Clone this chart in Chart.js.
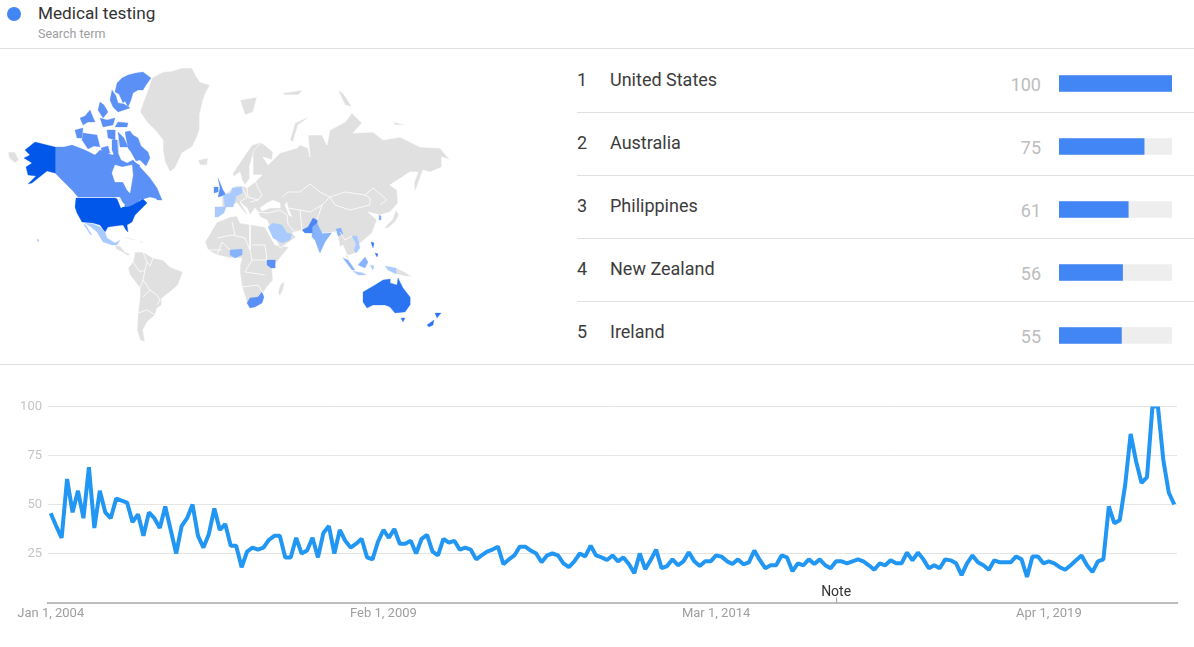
<!DOCTYPE html>
<html>
<head>
<meta charset="utf-8">
<title>Medical testing</title>
<script src="https://cdn.jsdelivr.net/npm/chart.js@4/dist/chart.umd.min.js"></script>
<style>
  html, body { margin: 0; padding: 0; background: #fff; overflow: hidden; }
  body { width: 1194px; height: 647px; position: relative; font-family: Roboto, sans-serif; }
  .abs { position: absolute; white-space: nowrap; }
  .rule { position: absolute; height: 1px; background: #e0e0e0; }
  canvas { position: absolute; }
</style>
</head>
<body>
<div class="abs" style="left:7px;top:7px;width:14px;height:14px;border-radius:50%;background:#4285f4"></div>
<div class="abs" id="term" style="left:38px;top:2px;font-size:17.2px;line-height:22px;color:#333"></div>
<div class="abs" id="termKind" style="left:38px;top:26px;font-size:12.5px;line-height:16px;color:#9e9e9e"></div>
<div class="rule" style="left:0;width:1194px;top:48px"></div>
<div class="rule" style="left:0;width:1194px;top:364px"></div>
<div id="rows"></div>

<div style="position:absolute;left:0;top:49px;width:470px;height:315px"><canvas id="mapChart"></canvas></div>
<div style="position:absolute;left:1058.5px;top:52px;width:113.5px;height:315px"><canvas id="regionChart"></canvas></div>
<div style="position:absolute;left:0;top:380px;width:1194px;height:250px"><canvas id="trendChart"></canvas></div>

<script>
const TERM = 'Medical testing';
const TERM_KIND = 'Search term';

// top regions list
const regionNames = ['United States', 'Australia', 'Philippines', 'New Zealand', 'Ireland'];
const regionValues = [100, 75, 61, 56, 55];

// interest over time, one value a month from Jan 2004
const trendValues = [
  45.5, 39, 33, 63, 46, 57, 43, 69, 38, 57, 46, 43, 53, 52, 51, 41, 45, 34, 46, 43,
  38, 49, 37, 25, 39, 43, 50, 34, 28, 35, 48, 37, 40, 29, 29, 18, 26, 28, 27, 28,
  32, 34, 34, 23, 23, 33, 25, 26.5, 33, 23, 35.5, 39, 25, 37, 31.5, 28, 30, 32.5, 23, 22,
  31, 37, 33, 37.5, 30, 30, 31.5, 25, 32.5, 34.5, 26, 24, 32.5, 30.5, 31.5, 27, 28, 27, 22, 24,
  26, 27, 28.5, 19.5, 22, 24, 28.5, 28.5, 26.5, 25, 20.5, 24, 25, 24, 20, 18, 21, 25, 23.5, 29,
  24, 23, 21.7, 24, 21, 23, 19.6, 15, 25, 17, 21.7, 27, 17.5, 18.6, 22, 19, 21, 25.6, 21, 18.6,
  21, 21, 24, 23.4, 21, 19.6, 22, 19.5, 20.5, 26.5, 21.7, 17.5, 19, 19, 24, 23, 16, 20, 19, 22,
  19.6, 22, 19, 17.5, 21, 21, 20, 21, 22, 21, 19, 16.7, 20, 19, 21.5, 20, 20, 25.5, 21.5, 25.5,
  22, 17.5, 19, 17.5, 22, 21.5, 20, 14, 20, 24, 20.5, 19, 16.7, 21.5, 20.5, 20.5, 20.5, 23.5, 22, 13,
  23.5, 23.5, 20, 21, 20, 18, 16.7, 19, 21.5, 24, 19, 15.5, 21, 22, 49, 40.5, 42, 60, 86, 72,
  61, 64, 100, 100, 72.5, 56, 50
];
const xTickLabels = ['Jan 1, 2004', 'Feb 1, 2009', 'Mar 1, 2014', 'Apr 1, 2019'];
const yTickValues = [25, 50, 75, 100];
const noteText = 'Note';
const noteMonth = 144;

const MONTHS = ['Jan', 'Feb', 'Mar', 'Apr', 'May', 'Jun', 'Jul', 'Aug', 'Sep', 'Oct', 'Nov', 'Dec'];
const trendLabels = trendValues.map((v, i) => MONTHS[i % 12] + ' 1, ' + (2004 + Math.floor(i / 12)));

// map outlines, traced by hand (map units)
const greenland = [[152,78],[157,75],[163,72],[172,71],[182,68],[192,68],[196,76],[200,82],[210,85],[206,92],[203,100],[200,113],[200,128],[197,137],[192,147],[182,153],[175,168],[170,172],[165,162],[163,150],[163,140],[155,130],[147,122],[140,112],[143,103],[148,90]];
const iceland = [[198,160],[208,158],[207,165],[200,165]];
const chukotkaTip = [[8,152],[15,152],[19,160],[15,163],[9,158]];
const alaska = [[25,150],[35,142],[55,147],[55,173],[47,171],[42,175],[32,183],[28,184],[36,176],[28,175],[26,167],[32,163],[24,158],[30,155]];
const canada = [[55,147],[64,147],[72,145],[85,150],[95,155],[100,150],[112,155],[118,153],[121,160],[127,163],[133,160],[140,167],[150,178],[157,188],[162,200],[150,197],[140,200],[133,207],[125,207],[120,197],[78,197],[72,190],[57,175],[55,173]];
const hudsonBay = [[112,173],[115,165],[122,167],[132,165],[133,175],[130,193],[127,190],[123,182],[115,182]];
const baffin = [[125,132],[130,131],[133,135],[138,138],[141,146],[148,152],[150,158],[146,166],[140,160],[136,161],[131,152],[128,148]];
const victoria = [[83,133],[90,134],[97,135],[100,147],[94,146],[88,149],[84,143],[82,140]];
const banks = [[75,130],[83,128],[82,138],[77,138]];
const ellesmere = [[117,83],[122,78],[128,75],[136,73],[143,72],[151,78],[146,85],[143,90],[138,90],[133,93],[131,100],[128,107],[125,101],[123,103],[119,94],[115,92]];
const devon = [[112,90],[116,96],[118,103],[124,104],[130,108],[124,110],[118,112],[113,107],[110,100]];
const axelHeiberg = [[100,102],[104,105],[108,112],[103,118],[98,110]];
const melville = [[80,118],[85,116],[90,110],[95,122],[88,122],[83,125]];
const princeWales = [[107,130],[115,130],[115,140],[108,138]];
const bylot = [[118,122],[128,123],[127,127],[115,127]];
const bathurst = [[100,118],[107,120],[115,118],[113,125],[103,127]];
const somerset = [[118,132],[124,138],[128,147],[120,147]];
const boothia = [[112,140],[117,140],[118,153],[115,157],[112,150]];
const kingWilliam = [[101,148],[108,146],[110,153],[103,154]];
const southampton = [[132,162],[140,165],[137,170]];
const newfoundland = [[155,193],[162,200],[157,200]];
const greatLakes = [[117,198],[121,208],[125,205],[120,200]];
const usa = [[76,198],[115,198],[120,200],[122,207],[128,207],[133,205],[143,199],[147,203],[140,210],[135,215],[132,222],[127,225],[128,232],[126,230],[123,225],[115,226],[108,227],[105,232],[100,225],[93,223],[82,222],[77,213],[75,207]];
const mexico = [[85,223],[93,224],[100,227],[105,232],[107,238],[115,243],[120,240],[117,245],[112,245],[103,242],[97,232],[91,227]];
const baja = [[85,224],[92,235],[90,234],[84,225]];
const hawaii = [[37,239],[39,240],[38,242]];
const centralAmerica = [[115,245],[120,246],[125,252],[130,254],[128,256],[122,252],[116,249]];
const cuba = [[125,237],[137,240],[133,240],[125,238]];
const hispaniola = [[139,241],[145,242],[141,243]];
const southAmerica = [[135,252],[143,252],[153,258],[163,260],[170,267],[183,272],[178,285],[170,292],[162,298],[162,305],[157,308],[155,315],[147,322],[143,330],[145,342],[140,340],[137,330],[138,313],[140,297],[140,288],[130,275],[128,268],[133,262]];
const africa = [[205,242],[217,222],[230,217],[237,216],[240,223],[253,225],[265,227],[275,245],[289,247],[280,258],[272,268],[273,280],[267,287],[263,293],[258,303],[250,308],[247,303],[242,287],[240,273],[240,265],[242,258],[230,258],[217,255],[208,250]];
const nigeria = [[230,250],[242,249],[242,255],[235,258],[230,255]];
const kenya = [[267,260],[275,260],[275,268],[271,268],[267,265]];
const southAfrica = [[247,303],[250,298],[258,297],[262,292],[264,297],[262,303],[255,307],[250,308]];
const madagascar = [[280,285],[285,281],[283,290],[280,296],[278,293]];
const eurasia = [[233,188],[236,186],[243,186],[247,188],[255,182],[262,175],[253,175],[253,167],[253,158],[252,148],[262,143],[273,152],[272,160],[263,157],[268,165],[275,158],[280,153],[297,148],[300,145],[308,148],[310,157],[308,135],[322,135],[327,145],[330,130],[345,122],[352,113],[362,123],[353,133],[373,132],[383,140],[400,137],[420,147],[440,148],[450,160],[442,157],[442,167],[430,172],[423,170],[415,192],[414,183],[418,172],[410,172],[390,185],[397,190],[398,203],[390,212],[380,215],[368,212],[377,220],[372,233],[358,245],[358,252],[350,255],[345,255],[350,262],[343,245],[340,247],[337,232],[332,233],[325,242],[319,253],[312,233],[302,230],[295,232],[292,233],[296,237],[285,245],[280,248],[270,227],[267,220],[260,217],[258,212],[255,208],[250,215],[247,208],[240,202],[248,215],[245,213],[237,203],[228,206],[226,207],[224,213],[218,217],[215,217],[215,207],[222,206],[222,198],[228,192]];
const scandinavia = [[233,173],[245,155],[252,145],[262,142],[254,150],[252,158],[250,165],[250,178],[245,185],[242,180],[240,172],[233,177]];
const blackSea = [[260,208],[267,203],[273,200],[280,203],[280,208],[270,208],[262,211]];
const caspian = [[287,202],[288,208],[292,217],[289,215],[285,205]];
const svalbard = [[240,100],[257,97],[253,112],[245,115]];
const novayaZemlya = [[308,117],[295,123],[290,140],[293,142],[298,125],[308,118]];
const franzJosef = [[282,93],[303,90],[298,95],[285,95]];
const severnaya = [[338,90],[343,93],[352,107],[345,105]];
const newSiberian = [[393,122],[407,125],[395,125]];
const japan = [[396,210],[399,215],[395,222],[388,228],[384,228],[392,220]];
const png = [[396,268],[405,272],[412,277],[404,276],[396,274]];
const uk = [[218,178],[223,190],[226,195],[218,197],[220,188]];
const ireland = [[214,187],[218,187],[218,192],[214,193]];
const france = [[223,195],[232,193],[236,198],[233,207],[225,207],[224,200]];
const germany = [[232,188],[242,187],[242,193],[235,197],[231,195]];
const spain = [[215,207],[226,207],[224,213],[218,217],[215,217]];
const saudi = [[268,227],[273,223],[282,225],[287,233],[292,234],[290,240],[282,243],[273,238]];
const india = [[312,225],[317,223],[322,233],[332,232],[325,242],[320,253],[315,240],[312,237]];
const pakistan = [[302,230],[308,227],[313,218],[317,220],[317,223],[312,227],[312,233],[305,233]];
const bangladesh = [[336,229],[341,228],[343,234],[338,236]];
const vietnam = [[352,236],[357,236],[360,248],[356,253],[354,250],[356,244]];
const sumatra = [[343,258],[348,260],[355,270],[352,270]];
const java = [[353,271],[363,273],[366,275],[358,275]];
const borneo = [[358,265],[365,257],[368,262],[365,268]];
const sulawesi = [[370,265],[374,266],[373,270]];
const philippinesA = [[371,242],[374,243],[373,248]];
const philippinesB = [[375,253],[378,254],[377,257]];
const papua = [[385,266],[396,268],[396,274],[388,270]];
const southKorea = [[379,215],[381,216],[381,220],[379,220]];
const australia = [[363,292],[375,285],[383,280],[390,279],[390,283],[397,285],[398,278],[403,288],[410,297],[410,305],[405,312],[395,313],[390,307],[385,305],[373,305],[367,308],[363,302]];
const tasmania = [[401,318],[405,318],[403,322]];
const nzNorth = [[435,313],[441,313],[437,318]];
const nzSouth = [[427,325],[434,320],[433,325],[429,327]];

// inner borders drawn as white lines
const borderLines = [
  [[143,252],[147,262],[145,270],[143,280],[150,290],[157,295],[160,300],[157,305]],
  [[140,288],[143,280]], [[153,258],[150,266],[147,262]], [[133,262],[140,272],[145,270]],
  [[143,297],[150,290]], [[138,313],[147,310],[155,315]],
  [[282,197],[288,192],[300,192],[310,184],[320,192],[330,197],[345,192],[365,195],[373,188],[387,200],[380,205]],
  [[330,197],[335,205],[350,210],[370,205],[370,198],[365,195]],
  [[330,197],[322,205],[317,220]], [[288,208],[300,210],[310,212],[322,205]],
  [[300,210],[302,230]], [[280,210],[287,215],[288,224],[295,232]], [[258,212],[268,213],[280,210]],
  [[322,233],[337,232]], [[340,232],[345,240],[352,236]],
  [[253,175],[258,188],[262,195],[258,200],[250,202]], [[242,187],[247,197],[240,202]], [[247,188],[248,197],[258,200]],
  [[217,238],[232,235],[245,238],[250,250],[252,260],[245,272]], [[232,222],[235,235]], [[250,225],[250,250]],
  [[265,245],[252,245]], [[252,260],[267,260]], [[242,287],[258,285],[263,293]], [[245,272],[265,275]], [[265,245],[267,260]],
  [[217,255],[222,242],[230,250]], [[208,250],[222,250]]
];

const GRAY = '#e0e0e0', DARK = '#0057ea', DEEP = '#2b74f1', MID = '#5b90f6', SOFT = '#86b3fb', PALE = '#a9caff';
const mapShapes = [
  [greenland, GRAY], [iceland, GRAY], [chukotkaTip, GRAY], [centralAmerica, GRAY], [cuba, GRAY], [hispaniola, GRAY],
  [southAmerica, GRAY], [africa, GRAY], [madagascar, GRAY], [eurasia, GRAY], [scandinavia, GRAY],
  [svalbard, GRAY], [novayaZemlya, GRAY], [franzJosef, GRAY], [severnaya, GRAY], [newSiberian, GRAY], [japan, GRAY], [png, GRAY],
  [canada, MID], [baffin, MID], [victoria, MID], [banks, MID], [ellesmere, MID], [devon, MID], [axelHeiberg, MID], [melville, MID],
  [princeWales, MID], [bylot, MID], [bathurst, MID], [somerset, MID], [boothia, MID], [kingWilliam, MID], [southampton, MID], [newfoundland, MID],
  [alaska, DARK], [usa, DARK], [mexico, PALE], [baja, PALE], [hawaii, PALE],
  [nigeria, SOFT], [kenya, MID], [southAfrica, MID],
  [uk, MID], [ireland, MID], [france, PALE], [germany, PALE], [spain, PALE],
  [saudi, PALE], [india, SOFT], [pakistan, '#4a87f5'], [bangladesh, SOFT], [vietnam, PALE],
  [sumatra, SOFT], [java, PALE], [borneo, SOFT], [sulawesi, PALE], [philippinesA, DEEP], [philippinesB, DEEP], [papua, PALE], [southKorea, SOFT],
  [australia, DEEP], [tasmania, DEEP], [nzNorth, DEEP], [nzSouth, DEEP],
  [hudsonBay, '#ffffff'], [greatLakes, '#ffffff'], [blackSea, '#ffffff'], [caspian, '#ffffff']
];

document.getElementById('term').textContent = TERM;
document.getElementById('termKind').textContent = TERM_KIND;

// rank + name + value rows
const rows = document.getElementById('rows');
regionNames.forEach((name, i) => {
  const y = 68 + i * 63;
  rows.insertAdjacentHTML('beforeend',
    `<div class="abs" style="left:577px;top:${y}px;font-size:18px;line-height:24px;color:#3c3c3c">${i + 1}</div>` +
    `<div class="abs" style="left:610px;top:${y}px;font-size:18px;line-height:24px;color:#3c3c3c">${name}</div>` +
    `<div class="abs" style="right:153px;top:${y + 5}px;font-size:18px;line-height:24px;color:#bdbdbd">${regionValues[i]}</div>`);
  if (i < regionNames.length - 1) {
    rows.insertAdjacentHTML('beforeend', `<div class="rule" style="left:577px;width:617px;top:${112 + i * 63}px"></div>`);
  }
});

Chart.defaults.font.family = 'Roboto, sans-serif';
Chart.defaults.animation = false;

function toPoints(list) {
  return list.map(p => ({ x: p[0], y: p[1] }));
}

// Map: filled outlines on a scatter chart, later entries on top
const mapDatasets = mapShapes.map((s, i) => ({
  data: toPoints(s[0].concat([s[0][0]])),
  showLine: true,
  fill: 'shape',
  backgroundColor: s[1],
  borderColor: s[1] === GRAY ? '#ffffff' : s[1],
  borderWidth: s[1] === GRAY ? 0.6 : 0.3,
  pointRadius: 0,
  order: -i,
}));
borderLines.forEach((b, i) => {
  mapDatasets.push({
    data: toPoints(b),
    showLine: true,
    fill: false,
    borderColor: '#ffffff',
    borderWidth: 0.8,
    pointRadius: 0,
    order: -1000 - i,
  });
});

new Chart(document.getElementById('mapChart'), {
  type: 'scatter',
  data: { datasets: mapDatasets },
  options: {
    responsive: true,
    maintainAspectRatio: false,
    events: [],
    plugins: { legend: { display: false }, tooltip: { enabled: false } },
    scales: {
      x: { type: 'linear', min: 0, max: 470, display: false },
      y: { type: 'linear', min: 49, max: 364, reverse: true, display: false },
    },
  },
});

// Region bars
new Chart(document.getElementById('regionChart'), {
  type: 'bar',
  data: {
    labels: regionNames,
    datasets: [
      { data: regionValues, backgroundColor: '#4285f4', barThickness: 16, grouped: false, order: 1 },
      { data: regionValues.map(() => 100), backgroundColor: '#eeeeee', barThickness: 16, grouped: false, order: 2 },
    ],
  },
  options: {
    indexAxis: 'y',
    responsive: true,
    maintainAspectRatio: false,
    events: [],
    plugins: { legend: { display: false }, tooltip: { enabled: false } },
    scales: {
      x: { min: 0, max: 100, display: false },
      y: { display: false },
    },
  },
});

// Note marker on the time axis
const noteMarker = {
  id: 'noteMarker',
  afterDraw(chart) {
    const { ctx, scales } = chart;
    const x = scales.x.getPixelForValue(noteMonth);
    const bottom = chart.chartArea.bottom;
    ctx.save();
    ctx.strokeStyle = '#9e9e9e';
    ctx.beginPath();
    ctx.moveTo(x + 0.5, bottom - 5);
    ctx.lineTo(x + 0.5, bottom);
    ctx.stroke();
    ctx.fillStyle = '#333';
    ctx.font = '14px Roboto, sans-serif';
    ctx.textAlign = 'center';
    ctx.textBaseline = 'alphabetic';
    ctx.fillText(noteText, x, bottom - 7);
    ctx.restore();
  },
};

// Interest over time
new Chart(document.getElementById('trendChart'), {
  type: 'line',
  data: {
    labels: trendLabels,
    datasets: [{
      data: trendValues,
      borderColor: '#2196f3',
      borderWidth: 4,
      borderJoinStyle: 'bevel',
      pointRadius: 0,
      tension: 0,
    }],
  },
  options: {
    responsive: true,
    maintainAspectRatio: false,
    events: [],
    layout: { padding: { top: 26.5, right: 17, left: 0, bottom: 0 } },
    plugins: { legend: { display: false }, tooltip: { enabled: false } },
    scales: {
      x: {
        type: 'category',
        offset: true,
        grid: { display: false, drawTicks: false },
        border: { color: '#bdbdbd', width: 2 },
        afterFit: (scale) => { scale.height = 27.5; },
        ticks: {
          autoSkip: false,
          maxRotation: 0,
          padding: 3,
          color: '#9e9e9e',
          font: { size: 13 },
          callback: function (val) {
            const label = this.getLabelForValue(val);
            return xTickLabels.includes(label) ? label : '';
          },
        },
      },
      y: {
        min: 0,
        max: 100,
        afterFit: (scale) => { scale.width = 48; },
        afterBuildTicks: (scale) => { scale.ticks = yTickValues.map(v => ({ value: v })); },
        grid: { color: '#e5e5e5', drawTicks: false },
        border: { display: false },
        ticks: { padding: 6, color: '#c4c4c4', font: { size: 13 } },
      },
    },
  },
  plugins: [noteMarker],
});
</script>
</body>
</html>
